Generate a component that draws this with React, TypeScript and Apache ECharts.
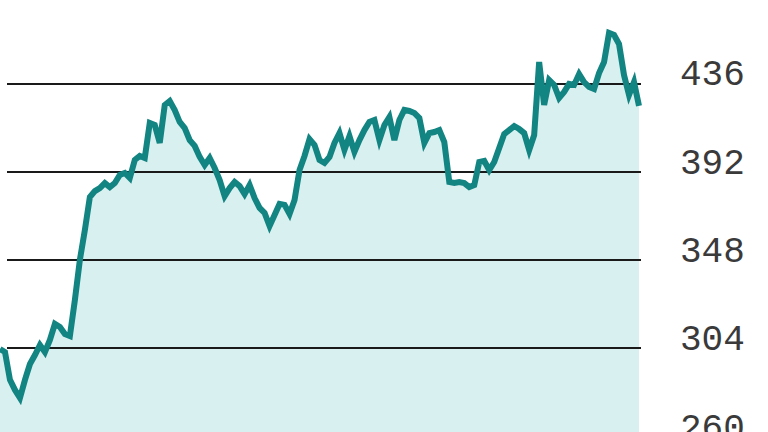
import React, { useEffect, useRef } from "react";
import * as echarts from "echarts";

const values: number[] = [
  303.6, 302.1, 288.2, 283.2, 279.2, 288.2, 296.1, 300.6, 305.6, 302.1,
  308.1, 316.1, 314.6, 311.1, 310.1, 328.0, 348.0, 362.9, 379.3, 382.3,
  383.8, 386.3, 384.3, 386.3, 390.3, 391.3, 388.8, 397.8, 399.8, 398.8,
  416.2, 415.2, 406.3, 425.2, 427.2, 422.7, 416.7, 413.7, 407.7, 404.8,
  399.3, 395.3, 398.8, 393.8, 387.8, 379.8, 383.8, 386.8, 384.8, 380.8,
  385.3, 378.8, 373.9, 371.4, 364.9, 370.4, 375.9, 375.4, 370.9, 377.8,
  392.8, 399.8, 408.2, 405.3, 397.8, 396.3, 399.3, 406.3, 411.2, 402.8,
  409.7, 401.8, 407.7, 412.7, 416.7, 417.7, 407.7, 415.2, 419.2, 407.7,
  417.7, 422.7, 422.2, 421.2, 418.7, 406.3, 411.2, 411.7, 412.7, 406.7,
  386.8, 386.3, 386.8, 386.3, 384.3, 385.3, 396.8, 397.3, 392.8, 396.8,
  403.8, 410.7, 412.7, 414.7, 413.2, 411.2, 402.8, 410.2, 446.6, 425.2,
  437.6, 435.2, 428.7, 431.7, 435.7, 435.2, 440.6, 436.6, 434.2, 433.2,
  441.1, 446.6, 461.1, 460.1, 455.6, 440.1, 430.2, 436.6, 424.7,
];

const categories: string[] = values.map((_, i) => String(i));

const yMin = 260;
const yMax = 480;
const yInterval = 44;

export default function App() {
  const ref = useRef<HTMLDivElement>(null);

  useEffect(() => {
    if (!ref.current) return;
    const chart = echarts.init(ref.current, undefined, { renderer: "svg" });
    chart.setOption({
      animation: false,
      backgroundColor: "#ffffff",
      grid: [
        {
          left: 0,
          right: 129,
          top: -5,
          bottom: -4.5,
          containLabel: false,
          outerBoundsMode: "none",
        },
        {
          left: 7,
          right: 127,
          top: -5,
          bottom: -4.5,
          containLabel: false,
          outerBoundsMode: "none",
        },
      ],
      xAxis: [
        {
          type: "category",
          gridIndex: 0,
          data: categories,
          boundaryGap: false,
          show: false,
        },
        {
          type: "category",
          gridIndex: 1,
          data: categories,
          boundaryGap: false,
          show: false,
        },
      ],
      yAxis: [
        {
          type: "value",
          gridIndex: 0,
          min: yMin,
          max: yMax,
          interval: yInterval,
          show: false,
          splitLine: { show: false },
        },
        {
          type: "value",
          gridIndex: 1,
          position: "right",
          min: yMin,
          max: yMax,
          interval: yInterval,
          z: 2,
          axisLine: { show: false },
          axisTick: { show: false },
          splitLine: { show: true, lineStyle: { color: "#1a1a1a", width: 2 } },
          axisLabel: {
            show: true,
            showMaxLabel: false,
            margin: 39,
            fontFamily: "'Liberation Mono', 'DejaVu Sans Mono', monospace",
            fontSize: 36,
            color: "#3a3a3a",
            verticalAlign: "bottom",
            lineHeight: 15,
          },
        },
      ],
      series: [
        {
          type: "line",
          xAxisIndex: 0,
          yAxisIndex: 0,
          data: values,
          showSymbol: false,
          symbol: "none",
          lineStyle: { width: 0, opacity: 0 },
          areaStyle: { color: "#d9f0f0", opacity: 1, origin: "start" },
          z: 1,
        },
        {
          type: "line",
          xAxisIndex: 0,
          yAxisIndex: 0,
          data: values,
          showSymbol: false,
          symbol: "none",
          lineStyle: { color: "#128482", width: 6, join: "miter" },
          z: 3,
        },
      ],
    });
    return () => chart.dispose();
  }, []);

  return (
    <div
      ref={ref}
      style={{ position: "absolute", left: 0, top: 0, width: 768, height: 432 }}
    />
  );
}
